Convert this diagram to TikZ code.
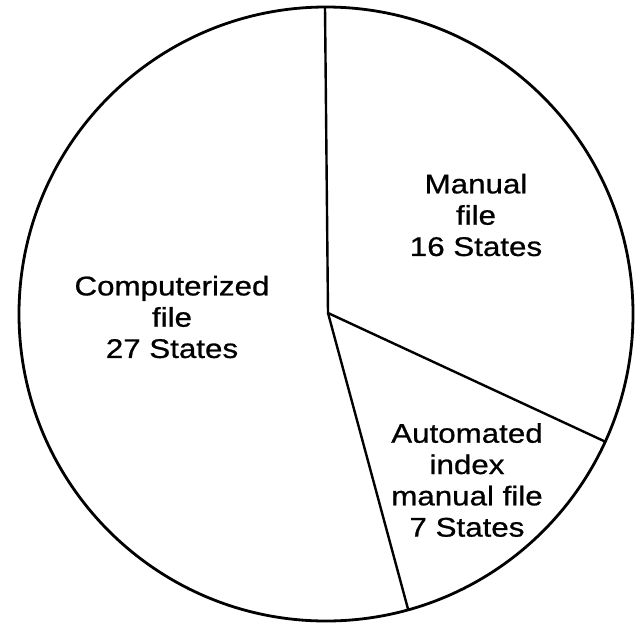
\documentclass[tikz,border=0pt]{standalone}
\usepackage{fontspec}
\setmainfont{Liberation Sans}[FakeStretch=1.16,FakeBold=0.8]
\begin{document}
\begin{tikzpicture}[x=1pt,y=-1pt,
  outline/.style={line width=2.8pt},
  spoke/.style={line width=2.4pt},
  label/.style={align=center,inner sep=0pt,font=\fontsize{27}{31.3}\selectfont}]
\useasboundingbox (0,0) rectangle (635,622);
\coordinate (C) at (326,314);
\draw[outline] (C) circle[radius=307];
\coordinate (hub) at (328,313);
\coordinate (top) at (325,7);
\coordinate (right) at (606,442);
\coordinate (bottom) at (408,609);
\draw[spoke] (top) -- (hub) -- (right);
\draw[spoke] (hub) -- (bottom);
\node[label] (manual) at (476,215) {Manual\\file\\16 States};
\node[label] (comp) at (172,317) {Computerized\\file\\27 States};
\node[label] (auto) at (467,480) {Automated\\index\\manual file\\7 States};
\end{tikzpicture}
\end{document}
